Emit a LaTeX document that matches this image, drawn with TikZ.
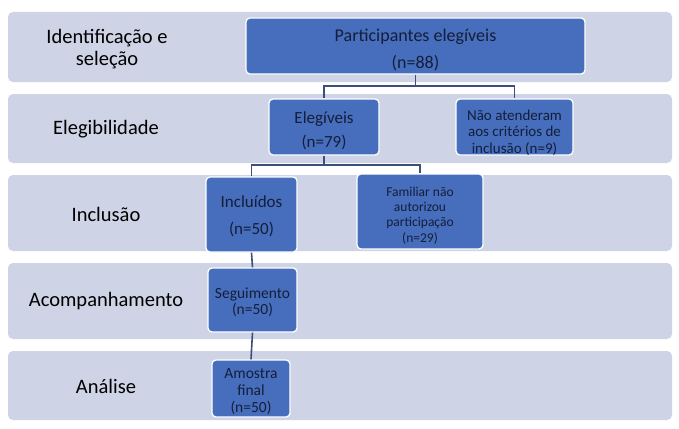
\documentclass[tikz,border=0pt]{standalone}
\usepackage{fontspec}
\setmainfont{Carlito}
\definecolor{bandc}{RGB}{206,211,229}
\definecolor{boxc}{RGB}{70,110,188}
\definecolor{boxtext}{RGB}{20,30,58}
\definecolor{linkc}{RGB}{58,80,122}
\begin{document}
\begin{tikzpicture}[x=1pt,y=-1pt,
  band/.style={fill=bandc,rounded corners=5pt,inner sep=0pt,minimum width=664pt},
  stage/.style={text=black,align=center,font=\fontsize{20.5}{22}\selectfont},
  box/.style={fill=boxc,draw=white,line width=1.3pt,rounded corners=4pt,inner sep=0pt},
  lbl/.style={text=boxtext,align=center,inner sep=0pt,yshift=-4pt},
  link/.style={draw=linkc,line width=1.6pt}]
\useasboundingbox (0,0) rectangle (679,428);
\fill[white] (0,0) rectangle (679,428);
% bands
\node[band,minimum height=70pt] (b1) at (340,47) {};
\node[band,minimum height=69pt] (b2) at (340,128.5) {};
\node[band,minimum height=76pt] (b3) at (340,213) {};
\node[band,minimum height=76pt] (b4) at (340,301) {};
\node[band,minimum height=69pt] (b5) at (340,385.5) {};
% stage labels
\node[stage] (s1) at (107,49) {Identificação e\\seleção};
\node[stage] (s2) at (106,129) {Elegibilidade};
\node[stage] (s3) at (106,214) {Inclusão};
\node[stage] (s4) at (106,301) {Acompanhamento};
\node[stage] (s5) at (106,386) {Análise};
% boxes
\node[box,minimum width=339pt,minimum height=56pt,
  label={[lbl,font=\fontsize{18}{27}\selectfont]center:{Participantes elegíveis\\(n=88)}}] (p) at (415.5,46) {};
\node[box,minimum width=110pt,minimum height=56pt,
  label={[lbl,font=\fontsize{17}{24}\selectfont]center:{Elegíveis\\(n=79)}}] (el) at (324,127) {};
\node[box,minimum width=117pt,minimum height=56pt,
  label={[lbl,yshift=-1.5pt,font=\fontsize{15}{16.5}\selectfont]center:{Não atenderam\\aos critérios de\\inclusão (n=9)}}] (na) at (514.5,127) {};
\node[box,minimum width=91pt,minimum height=75pt,
  label={[lbl,yshift=2pt,font=\fontsize{17}{27}\selectfont]center:{Incluídos\\(n=50)}}] (inc) at (251.5,214.5) {};
\node[box,minimum width=126pt,minimum height=75pt,
  label={[lbl,font=\fontsize{13.5}{15.3}\selectfont]center:{Familiar não\\autorizou\\participação\\(n=29)}}] (fam) at (420,211.5) {};
\node[box,minimum width=89pt,minimum height=64pt,
  label={[lbl,yshift=2pt,font=\fontsize{15.5}{16.5}\selectfont]center:{Seguimento\\(n=50)}}] (seg) at (252.5,300) {};
\node[box,minimum width=78pt,minimum height=57pt,
  label={[lbl,yshift=1pt,font=\fontsize{15.5}{17}\selectfont]center:{Amostra\\final\\(n=50)}}] (am) at (251,388.5) {};
% connectors
\coordinate (j1) at (p.south |- 0,86);
\coordinate (j2) at (el.south |- 0,165);
\draw[link] (p.south) -- (j1) -| (el.north);
\draw[link] (j1) -| (na.north);
\draw[link] (el.south) -- (j2) -| (inc.north);
\draw[link] (j2) -| (fam.north);
\draw[link] (inc.south) -- (seg.north);
\draw[link] (seg.south) -- (am.north);
\end{tikzpicture}
\end{document}
